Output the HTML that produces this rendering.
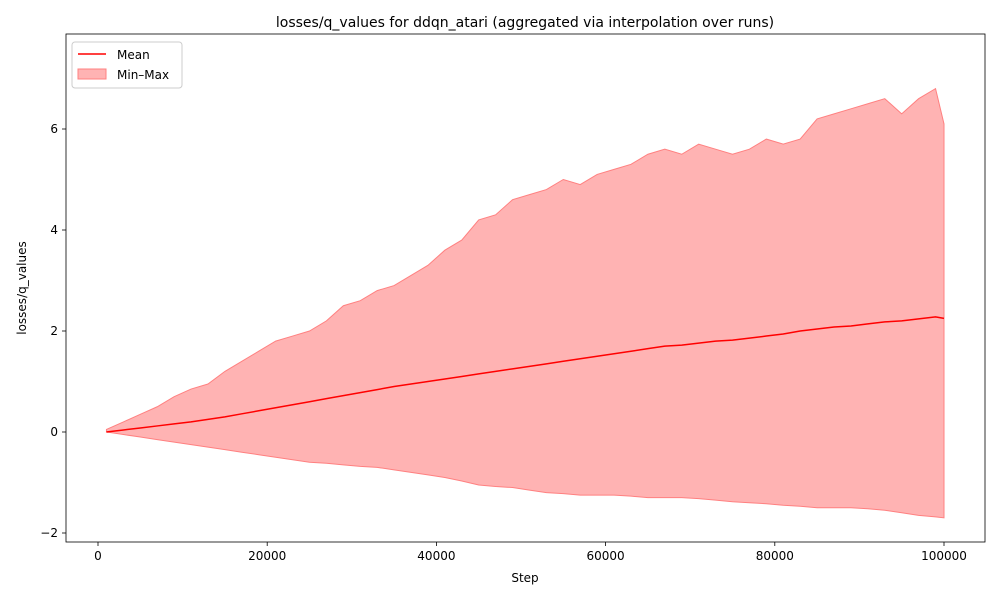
<!DOCTYPE html>
<html><head><meta charset="utf-8"><style>
body{margin:0;background:#fff;font-family:"Liberation Sans","DejaVu Sans",sans-serif}
svg text{font-family:"DejaVu Sans","Liberation Sans",sans-serif;fill:#000}
</style></head><body>
<svg id="c" width="1000" height="600" xmlns="http://www.w3.org/2000/svg">
<rect width="1000" height="600" fill="#fff"/>
<text x="525" y="27" font-size="14" text-anchor="middle">losses/q_values for ddqn_atari (aggregated via interpolation over runs)</text>
<g id="plot"></g>
<rect x="66" y="34" width="919" height="508" fill="none" stroke="#000" stroke-width="0.8"/>
<text x="525" y="582" font-size="12" text-anchor="middle">Step</text>
<text transform="translate(26,288) rotate(-90)" font-size="12" text-anchor="middle">losses/q_values</text>
<g>
<rect x="72" y="42" width="110" height="46" rx="3" fill="#fff" stroke="#ccc" stroke-width="1"/>
<line x1="78" y1="54" x2="106" y2="54" stroke="#f00" stroke-width="1.5"/>
<text x="117" y="59" font-size="12">Mean</text>
<rect x="78" y="69" width="28" height="10" fill="#ffb3b3" stroke="#ff8080"/>
<text x="117" y="79" font-size="12">Min–Max</text>
</g>
</svg>
<script>
const steps=[1000,3000,5000,7000,9000,11000,13000,15000,17000,19000,21000,23000,25000,27000,29000,31000,33000,35000,37000,39000,41000,43000,45000,47000,49000,51000,53000,55000,57000,59000,61000,63000,65000,67000,69000,71000,73000,75000,77000,79000,81000,83000,85000,87000,89000,91000,93000,95000,97000,99000,100000];
const maxVals=[0.05,0.2,0.35,0.5,0.7,0.85,0.95,1.2,1.4,1.6,1.8,1.9,2.0,2.2,2.5,2.6,2.8,2.9,3.1,3.3,3.6,3.8,4.2,4.3,4.6,4.7,4.8,5.0,4.9,5.1,5.2,5.3,5.5,5.6,5.5,5.7,5.6,5.5,5.6,5.8,5.7,5.8,6.2,6.3,6.4,6.5,6.6,6.3,6.6,6.8,6.1];
const minVals=[0,-0.05,-0.1,-0.15,-0.2,-0.25,-0.3,-0.35,-0.4,-0.45,-0.5,-0.55,-0.6,-0.62,-0.65,-0.68,-0.7,-0.75,-0.8,-0.85,-0.9,-0.97,-1.05,-1.08,-1.1,-1.15,-1.2,-1.22,-1.25,-1.25,-1.25,-1.27,-1.3,-1.3,-1.3,-1.32,-1.35,-1.38,-1.4,-1.42,-1.45,-1.47,-1.5,-1.5,-1.5,-1.52,-1.55,-1.6,-1.65,-1.68,-1.7];
const meanVals=[0.0,0.04,0.08,0.12,0.16,0.2,0.25,0.3,0.36,0.42,0.48,0.54,0.6,0.66,0.72,0.78,0.84,0.9,0.95,1.0,1.05,1.1,1.15,1.2,1.25,1.3,1.35,1.4,1.45,1.5,1.55,1.6,1.65,1.7,1.72,1.76,1.8,1.82,1.86,1.9,1.94,2.0,2.04,2.08,2.1,2.14,2.18,2.2,2.24,2.28,2.25];
const xTicks=[0,20000,40000,60000,80000,100000];
const yTicks=[-2,0,2,4,6];
const X=v=>98+(v/100000)*846;
const Y=v=>432-v*50.5;
const NS="http://www.w3.org/2000/svg";
const g=document.getElementById('plot');
function mk(t,a){const e=document.createElementNS(NS,t);for(const k in a)e.setAttribute(k,a[k]);g.appendChild(e);return e;}
let up=steps.map((s,i)=>X(s)+','+Y(maxVals[i]));
let lo=steps.map((s,i)=>X(s)+','+Y(minVals[i])).reverse();
const band=mk('polygon',{points:up.concat(lo).join(' '),fill:'#ffb3b3',stroke:'#ff8080','stroke-width':1});


const ml=mk('polyline',{points:steps.map((s,i)=>X(s)+','+Y(meanVals[i])).join(' '),fill:'none',stroke:'#f00','stroke-width':1.5});


xTicks.forEach(t=>{
 const l=mk('line',{x1:X(t),x2:X(t),y1:542,y2:546,stroke:'#000','stroke-width':0.8});
 
 
 const tx=mk('text',{x:X(t),y:560,'font-size':12,'text-anchor':'middle'});tx.textContent=t;
 
 
});
yTicks.forEach(t=>{
 const l=mk('line',{x1:62,x2:66,y1:Y(t),y2:Y(t),stroke:'#000','stroke-width':0.8});
 
 
 const tx=mk('text',{x:58,y:Y(t)+4,'font-size':12,'text-anchor':'end'});tx.textContent=t<0?'−'+(-t):t;
 
 
});
</script>
</body></html>
